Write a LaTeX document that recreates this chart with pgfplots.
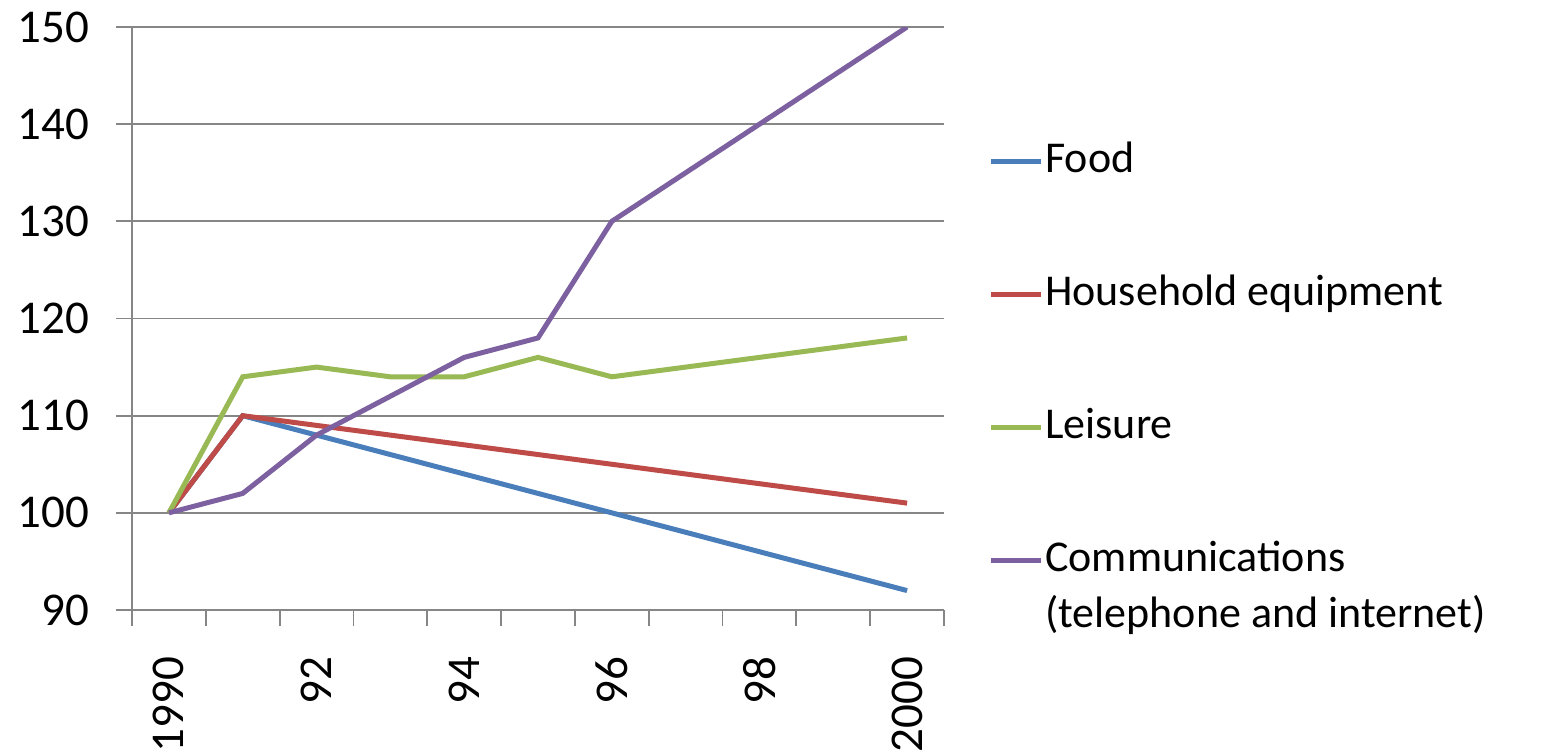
\documentclass[border=0pt]{standalone}
\usepackage{pgfplots}
\pgfplotsset{compat=1.18}
\usepackage{fontspec}
\setmainfont{Carlito}
\definecolor{cfood}{HTML}{4A7EBB}
\definecolor{chouse}{HTML}{BE4B48}
\definecolor{cleis}{HTML}{98B954}
\definecolor{ccomm}{HTML}{7D60A0}
\definecolor{cgrid}{HTML}{868686}
\begin{document}
\begin{tikzpicture}
\useasboundingbox (-66pt,-71pt) rectangle (704.5pt,305pt);
\begin{axis}[
  at={(0,0)}, anchor=south west,
  scale only axis,
  width=406pt, height=291.5pt,
  font=\fontsize{22}{26}\selectfont,
  tick label style={font=\fontsize{23.5}{28}\selectfont},
  /pgf/number format/assume math mode=true,
  xmin=-0.5, xmax=10.5,
  ymin=90, ymax=150,
  ytick={90,100,...,150},
  % tick marks sit between the years, labels every second year
  xtick={-0.5,0.5,...,10.5},
  xticklabels={},
  extra x ticks={0,2,4,6,8,10},
  extra x tick labels={1990,92,94,96,98,2000},
  extra x tick style={major tick length=0pt,
    xticklabel style={rotate=90, anchor=east, xshift=-20pt}},
  major tick length=8pt,
  tick align=outside,
  tick style={draw=cgrid, line width=0.9pt},
  axis x line*=bottom, axis y line*=left,
  x axis line style={-, draw=cgrid, line width=0.9pt},
  y axis line style={-, draw=cgrid, line width=0.9pt},
  ymajorgrids=true,
  grid style={draw=cgrid, line width=0.9pt},
  yticklabel style={xshift=-10pt},
  legend image code/.code={\draw[#1] (0pt,0pt) -- (25pt,0pt);},
  legend cell align=left,
  legend style={draw=none, fill=none, inner sep=0pt,
    at={(1.054,0.809)}, anchor=north west,
    row sep=43.5pt,
    nodes={inner sep=1pt, text height=16pt, text depth=5pt}},
  every axis plot/.append style={line width=2.5pt},
]
\addplot[cfood] coordinates {
  (0,100)(1,110)(2,108)(3,106)(4,104)(5,102)(6,100)(7,98)(8,96)(9,94)(10,92)};
\addlegendentry{Food}
\addplot[chouse] coordinates {
  (0,100)(1,110)(2,109)(3,108)(4,107)(5,106)(6,105)(7,104)(8,103)(9,102)(10,101)};
\addlegendentry{Household equipment}
\addplot[cleis] coordinates {
  (0,100)(1,114)(2,115)(3,114)(4,114)(5,116)(6,114)(7,115)(8,116)(9,117)(10,118)};
\addlegendentry{Leisure}
\addplot[ccomm] coordinates {
  (0,100)(1,102)(2,108)(3,112)(4,116)(5,118)(6,130)(7,135)(8,140)(9,145)(10,150)};
\addlegendentry{\smash{\begin{tabular}[t]{@{}l@{}}Communications\\[2pt](telephone and internet)\end{tabular}}}
\end{axis}
\end{tikzpicture}
\end{document}
